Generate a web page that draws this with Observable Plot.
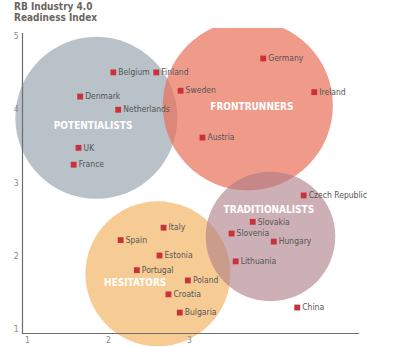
<!DOCTYPE html>
<html><head><meta charset="utf-8">
<script src="https://cdn.jsdelivr.net/npm/d3@7"></script>
<script src="https://cdn.jsdelivr.net/npm/@observablehq/plot@0.6"></script>
<style>
body{margin:0;background:#fff;}
#title{height:28px;padding:1px 0 0 14px;box-sizing:border-box;font-family:"DejaVu Sans Condensed","Liberation Sans Narrow",sans-serif;font-weight:bold;font-size:10px;line-height:11px;color:#6b6560;}
#chart svg{display:block;}
</style></head><body>
<div id="title">RB Industry 4.0<br>Readiness Index</div>
<div id="chart"></div>
<script>
// Country readiness data
const countries = ["Belgium","Finland","Denmark","Netherlands","UK","France","Sweden","Germany","Ireland","Austria",
  "Italy","Spain","Estonia","Portugal","Poland","Croatia","Bulgaria",
  "Czech Republic","Slovakia","Slovenia","Hungary","Lithuania","China"];
const xValues = [2.06,2.59,1.65,2.12,1.63,1.57,2.89,3.91,4.54,3.16,
  2.68,2.15,2.63,2.35,2.98,2.74,2.88,
  4.41,3.78,3.52,4.04,3.57,4.33];
const yValues = [4.51,4.51,4.18,4.00,3.48,3.25,4.26,4.70,4.24,3.62,
  2.39,2.22,2.01,1.81,1.67,1.48,1.23,
  2.83,2.47,2.31,2.20,1.93,1.30];

// Cluster bubbles
const clusterNames = ["POTENTIALISTS","FRONTRUNNERS","HESITATORS","TRADITIONALISTS"];
const clusterX = [1.85,3.72,2.61,4.00];
const clusterY = [3.89,4.06,1.76,2.27];
const clusterR = [1.00,1.05,0.895,0.80];
const clusterLabelX = [1.81,3.77,2.33,3.98];
const clusterLabelY = [3.78,4.04,1.64,2.64];
const clusterColors = ["#9ba6b2","#e96f58","#f4b666","#ac7b85"];
const clusterOpacity = [0.7,0.7,0.7,0.6];

const xTicks = [1,2,3];
const yTicks = [1,2,3,4,5];

const points = countries.map((c,i)=>({name:c,x:xValues[i],y:yValues[i]}));
const clusters = clusterNames.map((c,i)=>({name:c,x:clusterX[i],y:clusterY[i],r:clusterR[i],lx:clusterLabelX[i],ly:clusterLabelY[i],color:clusterColors[i],op:clusterOpacity[i]}));

const font = '"DejaVu Sans Condensed","Liberation Sans Narrow",sans-serif';

const chart = Plot.plot({
  width: 400,
  height: 319,
  marginLeft: 22,
  marginRight: 42,
  marginTop: 5,
  marginBottom: 14,
  style: {fontFamily: font, background: "#fff"},
  x: {domain:[1,5], range:[27,351], axis:null},
  y: {domain:[1,5], range:[301,8], axis:null},
  r: {type:"linear", domain:[0,1], range:[0,81]},
  marks: [
    clusters.map(c => Plot.dot([c], {x:"x", y:"y", r:"r", fill:c.color, fillOpacity:c.op, stroke:"none"})),
    Plot.frame({anchor:"left", stroke:"#6e6e6e", strokeWidth:1.2}),
    Plot.frame({anchor:"bottom", stroke:"#6e6e6e", strokeWidth:1.2}),
    Plot.axisY(yTicks, {tickSize:0, tickPadding:4, fontSize:8.5, fill:"#8a8a8a", label:null, tickFormat:"d"}),
    Plot.axisX(xTicks, {tickSize:0, tickPadding:3, fontSize:8.5, fill:"#8a8a8a", label:null, tickFormat:"d"}),
    Plot.text(clusters, {x:"lx", y:"ly", text:"name", fill:"#fff", fontWeight:"bold", fontSize:10, ariaLabel:"cluster-label"}),
    Plot.dot(points, {x:"x", y:"y", symbol:"square", r:3.3, fill:"#c8323a", stroke:"none"}),
    Plot.text(points, {x:"x", y:"y", text:"name", textAnchor:"start", dx:5, fontSize:8.5, fill:"#555"})
  ]
});
d3.select(chart).selectAll('g[aria-label="cluster-label"] text').attr("letter-spacing","0.5px");
document.getElementById("chart").appendChild(chart);
</script>
</body></html>
